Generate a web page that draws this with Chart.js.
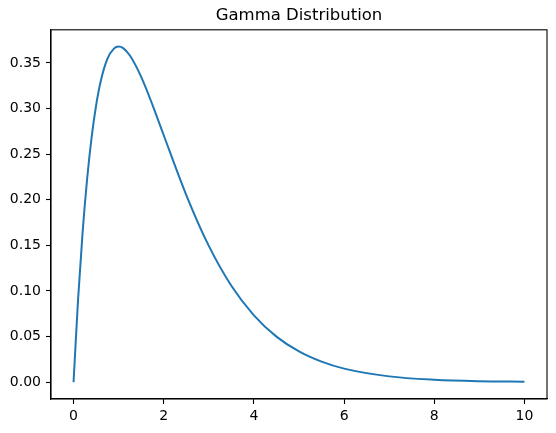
<!DOCTYPE html>
<html>
<head>
<meta charset="utf-8">
<script src="https://cdn.jsdelivr.net/npm/chart.js@4"></script>
<style>
  html, body { margin: 0; padding: 0; background: #fff; }
</style>
</head>
<body>
<canvas id="gamma" width="556" height="433"></canvas>
<script>
// values
let xValues = [0, 0.1, 0.2, 0.3, 0.4, 0.5, 0.6, 0.75, 0.9, 1, 1.1, 1.25, 1.5, 1.75, 2,
  2.5, 3, 3.5, 4, 4.5, 5, 5.5, 6, 7, 8, 9, 10];
let yValues = [0, 0.0905, 0.1637, 0.2222, 0.2681, 0.3033, 0.3293, 0.3543, 0.3659, 0.3679,
  0.3662, 0.3581, 0.3347, 0.3041, 0.2707, 0.2052, 0.1494, 0.1057, 0.0733, 0.05, 0.0337,
  0.0225, 0.0149, 0.0064, 0.0027, 0.0011, 0.0005];
let xTicks = [0, 2, 4, 6, 8, 10];
let yTicks = [0, 0.05, 0.1, 0.15, 0.2, 0.25, 0.3, 0.35];

const points = xValues.map((x, i) => ({ x: x, y: yValues[i] }));

// draw the full box round the plot area like matplotlib spines
const frame = {
  id: "frame",
  afterDraw(chart) {
    const a = chart.chartArea;
    const ctx = chart.ctx;
    ctx.save();
    ctx.strokeStyle = "#000";
    ctx.lineWidth = 1.1;
    ctx.strokeRect(a.left, a.top, a.right - a.left, a.bottom - a.top);
    ctx.restore();
  },
};

Chart.defaults.font.family = "'DejaVu Sans', sans-serif";
Chart.defaults.color = "#000";

new Chart("gamma", {
  type: "line",
  data: {
    datasets: [
      {
        data: points,
        borderColor: "#1f77b4",
        borderWidth: 2,
        pointRadius: 0,
        cubicInterpolationMode: "monotone",
        fill: false,
      },
    ],
  },
  options: {
    responsive: false,
    animation: false,
    layout: { padding: { left: 0, right: 9, top: 0, bottom: 0 } },
    plugins: {
      legend: { display: false },
      tooltip: { enabled: false },
      title: {
        display: true,
        text: "Gamma Distribution",
        fullSize: false,
        font: { size: 16.5, weight: "normal" },
        color: "#000",
        padding: { top: 6, bottom: 4 },
      },
    },
    scales: {
      x: {
        type: "linear",
        min: -0.5,
        max: 10.5,
        afterBuildTicks(scale) {
          scale.ticks = xTicks.map((v) => ({ value: v }));
        },
        afterFit(scale) {
          scale.height = 34;
        },
        grid: { drawOnChartArea: false, tickLength: 5, color: "#000", tickWidth: 1.1 },
        border: { color: "#000", width: 1.1 },
        ticks: { font: { size: 14 }, padding: 4, maxRotation: 0 },
      },
      y: {
        type: "linear",
        min: -0.0184,
        max: 0.3863,
        afterBuildTicks(scale) {
          scale.ticks = yTicks.map((v) => ({ value: v }));
        },
        afterFit(scale) {
          scale.width = 51;
        },
        grid: { drawOnChartArea: false, tickLength: 5, color: "#000", tickWidth: 1.1 },
        border: { color: "#000", width: 1.1 },
        ticks: {
          font: { size: 14 },
          padding: 5,
          callback: (v) => v.toFixed(2),
        },
      },
    },
  },
  plugins: [frame],
});
</script>
</body>
</html>
